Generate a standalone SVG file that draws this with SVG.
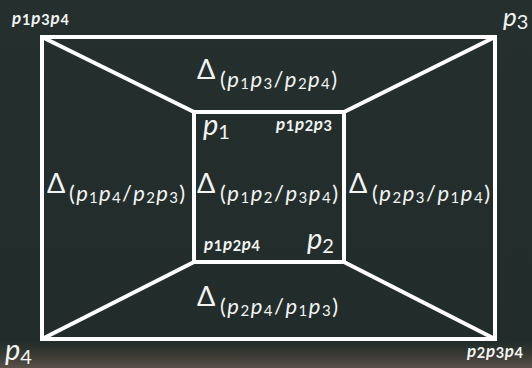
<svg xmlns="http://www.w3.org/2000/svg" width="532" height="368" viewBox="0 0 532 368">
  <defs>
    <linearGradient id="bg" x1="0" y1="0" x2="0" y2="1">
      <stop offset="0" stop-color="#25302e"/>
      <stop offset="0.93" stop-color="#222d2b"/>
      <stop offset="0.965" stop-color="#3a3a33"/>
      <stop offset="1" stop-color="#58514a"/>
    </linearGradient>
    <style>
      .ln { stroke: #ffffff; stroke-width: 4; fill: none; stroke-linejoin: miter; }
      text { font-family: Lato, "Open Sans", "DejaVu Sans", sans-serif; fill: #f2f4f2; }
      .d { font-size: 27px; }
      .s { font-size: 22px; }
      .i { font-style: italic; }
      .n { font-size: 15px; font-style: normal; }
      .big { font-size: 29px; }
      .bn { font-size: 20px; font-style: normal; }
      .sm { font-size: 17px; font-weight: bold; }
      .sn { font-size: 14.5px; font-style: normal; }
    </style>
  </defs>
  <rect x="0" y="0" width="532" height="368" fill="url(#bg)"/>

  <g id="connectors">
    <rect class="ln" x="42" y="37" width="453" height="302"/>
    <rect class="ln" x="194" y="112" width="150" height="150"/>
    <line class="ln" x1="42" y1="37" x2="194" y2="112"/>
    <line class="ln" x1="495" y1="37" x2="344" y2="112"/>
    <line class="ln" x1="42" y1="339" x2="194" y2="262"/>
    <line class="ln" x1="495" y1="339" x2="344" y2="262"/>
  </g>

  <g id="face-top">
    <text class="d" x="197" y="79">Δ</text>
    <text class="s" x="220" y="87" textLength="117" lengthAdjust="spacing">(<tspan class="i">p</tspan><tspan class="n" dy="2">1</tspan><tspan class="i" dy="-2">p</tspan><tspan class="n" dy="2">3</tspan><tspan dy="-2">/</tspan><tspan class="i">p</tspan><tspan class="n" dy="2">2</tspan><tspan class="i" dy="-2">p</tspan><tspan class="n" dy="2">4</tspan><tspan dy="-2">)</tspan></text>
  </g>
  <g id="face-left">
    <text class="d" x="47" y="193">Δ</text>
    <text class="s" x="69" y="201" textLength="116" lengthAdjust="spacing">(<tspan class="i">p</tspan><tspan class="n" dy="2">1</tspan><tspan class="i" dy="-2">p</tspan><tspan class="n" dy="2">4</tspan><tspan dy="-2">/</tspan><tspan class="i">p</tspan><tspan class="n" dy="2">2</tspan><tspan class="i" dy="-2">p</tspan><tspan class="n" dy="2">3</tspan><tspan dy="-2">)</tspan></text>
  </g>
  <g id="face-center">
    <text class="d" x="197" y="193">Δ</text>
    <text class="s" x="220" y="201" textLength="118" lengthAdjust="spacing">(<tspan class="i">p</tspan><tspan class="n" dy="2">1</tspan><tspan class="i" dy="-2">p</tspan><tspan class="n" dy="2">2</tspan><tspan dy="-2">/</tspan><tspan class="i">p</tspan><tspan class="n" dy="2">3</tspan><tspan class="i" dy="-2">p</tspan><tspan class="n" dy="2">4</tspan><tspan dy="-2">)</tspan></text>
  </g>
  <g id="face-right">
    <text class="d" x="349" y="193">Δ</text>
    <text class="s" x="372" y="201" textLength="118" lengthAdjust="spacing">(<tspan class="i">p</tspan><tspan class="n" dy="2">2</tspan><tspan class="i" dy="-2">p</tspan><tspan class="n" dy="2">3</tspan><tspan dy="-2">/</tspan><tspan class="i">p</tspan><tspan class="n" dy="2">1</tspan><tspan class="i" dy="-2">p</tspan><tspan class="n" dy="2">4</tspan><tspan dy="-2">)</tspan></text>
  </g>
  <g id="face-bottom">
    <text class="d" x="197" y="306">Δ</text>
    <text class="s" x="220" y="314" textLength="118" lengthAdjust="spacing">(<tspan class="i">p</tspan><tspan class="n" dy="2">2</tspan><tspan class="i" dy="-2">p</tspan><tspan class="n" dy="2">4</tspan><tspan dy="-2">/</tspan><tspan class="i">p</tspan><tspan class="n" dy="2">1</tspan><tspan class="i" dy="-2">p</tspan><tspan class="n" dy="2">3</tspan><tspan dy="-2">)</tspan></text>
  </g>

  <g id="vertex-p1">
    <text class="big i" x="203" y="135">p<tspan class="bn" dy="4">1</tspan></text>
  </g>
  <g id="vertex-p2">
    <text class="big i" x="307" y="249">p<tspan class="bn" dy="4">2</tspan></text>
  </g>
  <g id="vertex-p3">
    <text class="i" x="503" y="26" font-size="26">p<tspan class="bn" dy="3" font-size="18">3</tspan></text>
  </g>
  <g id="vertex-p4">
    <text class="big i" x="5" y="360">p<tspan class="bn" dy="4">4</tspan></text>
  </g>

  <g id="label-p1p3p4">
    <text class="sm i" x="12" y="24" textLength="57" lengthAdjust="spacing">p<tspan class="sn" dy="1">1</tspan><tspan dy="-1">p</tspan><tspan class="sn" dy="1">3</tspan><tspan dy="-1">p</tspan><tspan class="sn" dy="1">4</tspan></text>
  </g>
  <g id="label-p1p2p3">
    <text class="sm i" x="276" y="130" textLength="56" lengthAdjust="spacing">p<tspan class="sn" dy="1">1</tspan><tspan dy="-1">p</tspan><tspan class="sn" dy="1">2</tspan><tspan dy="-1">p</tspan><tspan class="sn" dy="1">3</tspan></text>
  </g>
  <g id="label-p1p2p4">
    <text class="sm i" x="204" y="250" textLength="56" lengthAdjust="spacing">p<tspan class="sn" dy="1">1</tspan><tspan dy="-1">p</tspan><tspan class="sn" dy="1">2</tspan><tspan dy="-1">p</tspan><tspan class="sn" dy="1">4</tspan></text>
  </g>
  <g id="label-p2p3p4">
    <text class="sm i" x="467" y="357" textLength="56" lengthAdjust="spacing">p<tspan class="sn" dy="1">2</tspan><tspan dy="-1">p</tspan><tspan class="sn" dy="1">3</tspan><tspan dy="-1">p</tspan><tspan class="sn" dy="1">4</tspan></text>
  </g>
</svg>
